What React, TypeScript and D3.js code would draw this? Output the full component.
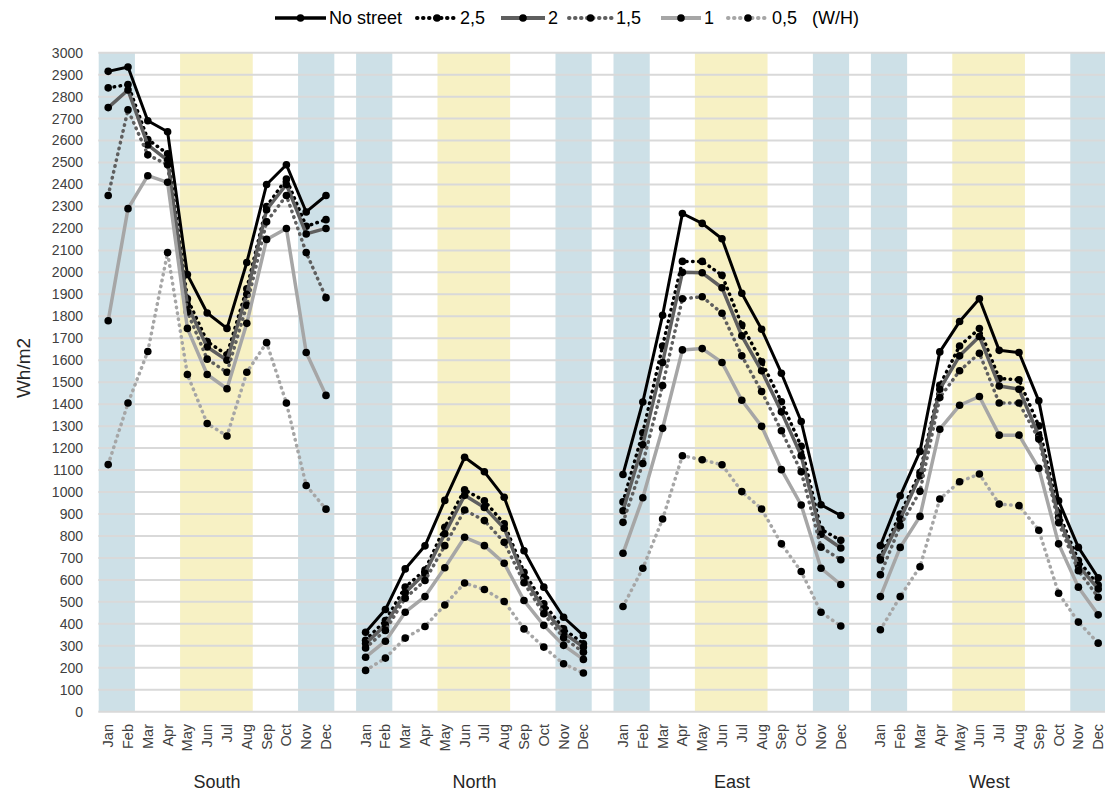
import React from "react";
import * as d3 from "d3";

// ---------- data ----------
const months = ["Jan","Feb","Mar","Apr","May","Jun","Jul","Aug","Sep","Oct","Nov","Dec"];
const panels = ["South","North","East","West"];
const yTicks = d3.range(0, 3001, 100);

// Each series: 48 values = South(12), North(12), East(12), West(12)
const noStreet = [
  2915, 2935, 2690, 2640, 1990, 1815, 1745, 2045, 2400, 2490, 2275, 2350,
  362, 465, 650, 755, 962, 1158, 1092, 976, 733, 567, 430, 347,
  1080, 1410, 1805, 2268, 2223, 2153, 1905, 1741, 1541, 1321, 942, 893,
  756, 983, 1185, 1638, 1776, 1880, 1645, 1635, 1415, 960, 748, 609,
];
const wh25 = [
  2840, 2855, 2605, 2540, 1880, 1685, 1625, 1925, 2300, 2425, 2210, 2240,
  325, 415, 567, 645, 840, 1010, 960, 855, 635, 491, 377, 309,
  955, 1270, 1665, 2050, 2050, 1987, 1760, 1593, 1411, 1208, 830, 780,
  703, 900, 1089, 1486, 1665, 1744, 1517, 1511, 1301, 905, 688, 577,
];
const wh2 = [
  2750, 2830, 2580, 2510, 1850, 1660, 1600, 1900, 2285, 2400, 2175, 2200,
  310, 395, 541, 630, 810, 985, 930, 835, 612, 468, 359, 294,
  915, 1215, 1590, 2000, 1998, 1930, 1711, 1552, 1365, 1165, 808, 745,
  691, 877, 1074, 1468, 1620, 1708, 1483, 1468, 1256, 885, 665, 559,
];
const wh15 = [
  2350, 2740, 2535, 2490, 1820, 1605, 1545, 1850, 2230, 2350, 2090, 1885,
  290, 370, 517, 597, 756, 918, 870, 771, 587, 446, 336, 271,
  862, 1130, 1485, 1880, 1889, 1814, 1620, 1458, 1279, 1092, 749, 692,
  624, 847, 1003, 1430, 1552, 1632, 1405, 1405, 1241, 860, 642, 521,
];
const wh1 = [
  1780, 2290, 2440, 2410, 1745, 1535, 1470, 1768, 2150, 2200, 1635, 1440,
  248, 321, 453, 524, 655, 794, 756, 676, 506, 393, 302, 238,
  721, 974, 1290, 1647, 1653, 1590, 1418, 1299, 1102, 941, 653, 579,
  524, 748, 889, 1286, 1395, 1435, 1259, 1259, 1108, 764, 567, 441,
];
const wh05 = [
  1125, 1405, 1640, 2090, 1535, 1312, 1255, 1545, 1680, 1405, 1030, 922,
  188, 244, 335, 388, 486, 586, 556, 502, 377, 294, 218, 176,
  479, 653, 877, 1165, 1147, 1124, 1002, 923, 764, 638, 453, 390,
  373, 524, 660, 968, 1047, 1082, 945, 938, 826, 539, 408, 312,
];

const seriesNames = ["No street", "2,5", "2", "1,5", "1", "0,5"];
const seriesValues = [noStreet, wh25, wh2, wh15, wh1, wh05];
const seriesColors = ["#000000", "#000000", "#5f5f5f", "#5f5f5f", "#a6a6a6", "#a6a6a6"];
const seriesDotted = [false, true, false, true, false, true];

// season bands in month units from panel start: [start, end, colour]
const bands: [number, number, string][] = [
  [0.02, 1.85, "#cde0e7"],
  [4.13, 7.8, "#f7f1c4"],
  [10.09, 11.92, "#cde0e7"],
];

const W = 1105;
const H = 792;
const slot = 19.8;
const x = d3.scaleLinear().domain([0, 51]).range([98.3, 98.3 + 51 * slot]);
const y = d3.scaleLinear().domain([0, 3000]).range([711.7, 52.7]);
const monthX = (p: number, m: number) => x(p * 13 + m + 0.5);

const font = "Liberation Sans, Arial, sans-serif";

export default function App() {
  const legendItems = [
    { x0: 275, x1: 326, tx: 329 },
    { x0: 417, x1: 457, tx: 460 },
    { x0: 501, x1: 545, tx: 548 },
    { x0: 569, x1: 612, tx: 616 },
    { x0: 661, x1: 701, tx: 704 },
    { x0: 728, x1: 768, tx: 772 },
  ];

  return (
    <svg width={W} height={H} style={{ position: "absolute", left: 0, top: 0, background: "#fff" }} fontFamily={font}>
      {/* bands */}
      {panels.map((p, pi) =>
        bands.map(([a, b, c], bi) => (
          <rect key={p + bi} x={x(pi * 13 + a)} y={y(3000)} width={x(pi * 13 + b) - x(pi * 13 + a)} height={y(0) - y(3000)} fill={c} />
        ))
      )}
      {/* gridlines */}
      {yTicks.map((t) => (
        <line key={t} x1={x(0)} x2={W + 10} y1={y(t)} y2={y(t)} stroke="#d9d9d9" strokeWidth={2} />
      ))}
      {/* y tick labels */}
      {yTicks.map((t) => (
        <text key={"l" + t} x={83} y={y(t)} dy="0.35em" textAnchor="end" fontSize={14} fill="#404040">
          {t}
        </text>
      ))}
      <text transform={`translate(30,${368}) rotate(-90)`} textAnchor="middle" fontSize={19} fill="#262626">
        Wh/m2
      </text>
      {/* month labels & panel titles */}
      {panels.map((p, pi) => (
        <g key={"ax" + p}>
          {months.map((m, mi) => (
            <text key={m} transform={`translate(${monthX(pi, mi)},724) rotate(-90)`} textAnchor="end" dy="0.35em" fontSize={14.5} fill="#404040">
              {m}
            </text>
          ))}
          <text x={(monthX(pi, 0) + monthX(pi, 11)) / 2} y={788} textAnchor="middle" fontSize={18} fill="#262626">
            {p}
          </text>
        </g>
      ))}
      {/* series */}
      {seriesValues.map((vals, si) => (
        <g key={"s" + si}>
          {panels.map((p, pi) => (
            <path
              key={p}
              d={d3
                .line<number>()
                .x((_, i) => monthX(pi, i))
                .y((d) => y(d))(vals.slice(pi * 12, pi * 12 + 12)) || ""}
              fill="none"
              stroke={seriesColors[si]}
              strokeWidth={si === 0 ? 3 : 3.5}
              strokeDasharray={seriesDotted[si] ? "0.5 5.5" : undefined}
              strokeLinecap={seriesDotted[si] ? "round" : "butt"}
              strokeLinejoin="round"
            />
          ))}
          {vals.map((v, i) => (
            <circle key={i} cx={monthX(Math.floor(i / 12), i % 12)} cy={y(v)} r={3.8} fill="#000" />
          ))}
        </g>
      ))}
      {/* legend */}
      {legendItems.map((it, i) => (
        <g key={"lg" + i}>
          <line
            x1={it.x0}
            x2={it.x1}
            y1={18}
            y2={18}
            stroke={seriesColors[i]}
            strokeWidth={i === 0 ? 3.5 : 4}
            strokeDasharray={seriesDotted[i] ? "0.5 5.5" : undefined}
            strokeLinecap={seriesDotted[i] ? "round" : "butt"}
          />
          <circle cx={(it.x0 + it.x1) / 2} cy={18} r={3.8} fill="#000" />
          <text x={it.tx} y={18} dy="0.35em" fontSize={18} fill="#000">
            {seriesNames[i]}
          </text>
        </g>
      ))}
      <text x={812} y={18} dy="0.35em" fontSize={18} fill="#000">
        (W/H)
      </text>
    </svg>
  );
}
